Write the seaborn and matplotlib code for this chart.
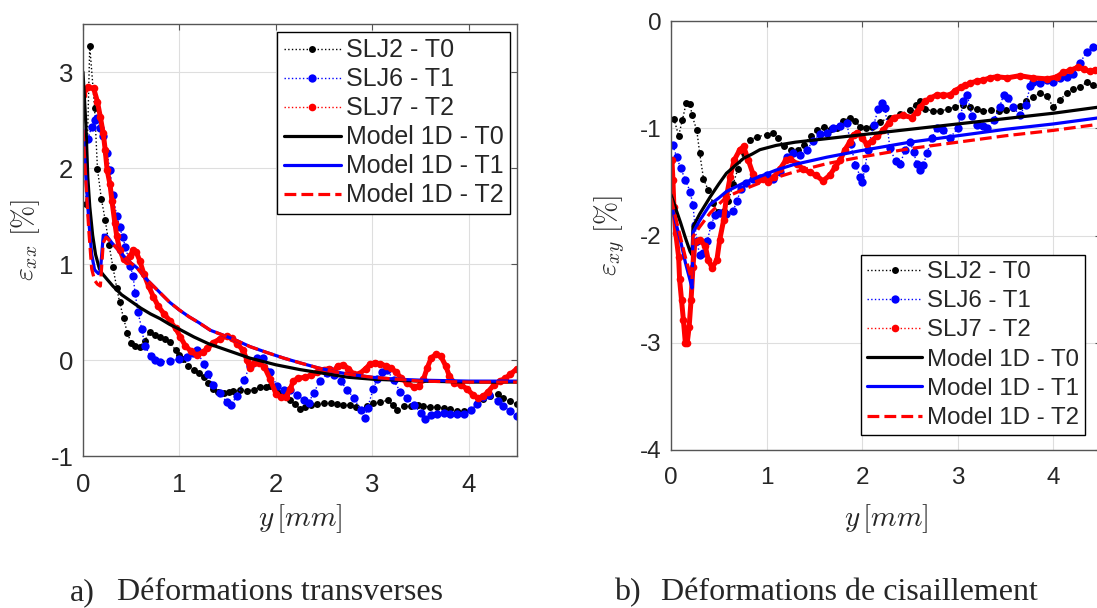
import matplotlib
matplotlib.use('Agg')
import seaborn as sns
import matplotlib.pyplot as plt

# ---- (a) transverse strain eps_xx vs y [mm] ----
a_slj2_y = [0.03, 0.07, 0.12, 0.15, 0.19, 0.23, 0.27, 0.31, 0.35, 0.38, 0.42, 0.46, 0.5, 0.54, 0.59, 0.64,
            0.69, 0.75, 0.8, 0.85, 0.9, 0.96, 1.0, 1.04, 1.09, 1.15, 1.2, 1.25, 1.3, 1.35, 1.4, 1.46, 1.51,
            1.56, 1.63, 1.7, 1.77, 1.84, 1.9, 1.94, 2.0, 2.05, 2.1, 2.15, 2.2, 2.25, 2.3, 2.36, 2.43, 2.5,
            2.57, 2.63, 2.7, 2.77, 2.83, 2.88, 2.94, 3.01, 3.08, 3.16, 3.21, 3.26, 3.33, 3.4, 3.47, 3.53,
            3.6, 3.67, 3.74, 3.81, 3.88, 3.95, 4.02, 4.09, 4.15, 4.22, 4.3, 4.36, 4.43, 4.5]
a_slj2_e = [1.62, 3.27, 2.63, 1.99, 1.68, 1.46, 1.2, 0.97, 0.75, 0.6, 0.44, 0.28, 0.18, 0.15, 0.14, 0.2,
            0.29, 0.26, 0.24, 0.22, 0.19, 0.1, 0.05, 0.01, -0.06, -0.1, -0.14, -0.18, -0.24, -0.3, -0.33,
            -0.34, -0.33, -0.32, -0.31, -0.32, -0.31, -0.28, -0.28, -0.27, -0.3, -0.34, -0.37, -0.42,
            -0.46, -0.51, -0.49, -0.47, -0.46, -0.45, -0.45, -0.46, -0.47, -0.47, -0.49, -0.52, -0.48,
            -0.45, -0.44, -0.42, -0.47, -0.52, -0.48, -0.48, -0.47, -0.48, -0.49, -0.49, -0.5, -0.51,
            -0.53, -0.53, -0.52, -0.46, -0.41, -0.38, -0.35, -0.4, -0.43, -0.46]

a_slj6_y = [0.05, 0.09, 0.12, 0.15, 0.18, 0.21, 0.25, 0.28, 0.31, 0.35, 0.38, 0.41, 0.44, 0.49, 0.52, 0.54,
            0.57, 0.61, 0.64, 0.7, 0.75, 0.8, 0.9, 1.0, 1.08, 1.14, 1.18, 1.25, 1.3, 1.35, 1.42, 1.49, 1.53,
            1.6, 1.67, 1.73, 1.8, 1.87, 1.94, 2.01, 2.08, 2.15, 2.22, 2.29, 2.34, 2.39, 2.46, 2.53, 2.56,
            2.6, 2.67, 2.74, 2.81, 2.88, 2.92, 2.95, 3.01, 3.05, 3.1, 3.15, 3.22, 3.29, 3.36, 3.43, 3.5,
            3.55, 3.61, 3.67, 3.74, 3.81, 3.88, 3.95, 4.02, 4.09, 4.15, 4.21, 4.3, 4.36, 4.43, 4.5]
a_slj6_e = [2.3, 2.43, 2.5, 2.52, 2.42, 2.33, 2.16, 1.98, 1.72, 1.5, 1.39, 1.28, 1.18, 0.98, 0.87, 0.7,
            0.5, 0.32, 0.15, 0.04, 0.0, -0.02, -0.01, 0.01, 0.03, 0.07, 0.1, -0.04, -0.15, -0.26, -0.34,
            -0.44, -0.47, -0.37, -0.21, -0.06, 0.02, 0.02, -0.12, -0.27, -0.31, -0.31, -0.36, -0.42,
            -0.45, -0.34, -0.22, -0.14, -0.1, -0.16, -0.22, -0.31, -0.4, -0.52, -0.6, -0.5, -0.3, -0.2,
            -0.12, -0.1, -0.21, -0.33, -0.4, -0.47, -0.55, -0.61, -0.57, -0.56, -0.55, -0.56, -0.56,
            -0.56, -0.52, -0.46, -0.39, -0.36, -0.43, -0.48, -0.53, -0.58]

a_slj7_y = [0.0, 0.05, 0.11, 0.15, 0.18, 0.21, 0.23, 0.25, 0.28, 0.3, 0.33, 0.35, 0.38, 0.42, 0.46, 0.49,
            0.52, 0.55, 0.59, 0.63, 0.68, 0.73, 0.78, 0.84, 0.9, 0.96, 1.01, 1.06, 1.12, 1.18, 1.24, 1.29,
            1.35, 1.42, 1.49, 1.54, 1.6, 1.66, 1.7, 1.73, 1.77, 1.82, 1.88, 1.94, 2.0, 2.05, 2.1, 2.15,
            2.18, 2.23, 2.3, 2.36, 2.43, 2.5, 2.55, 2.6, 2.64, 2.7, 2.75, 2.81, 2.86, 2.93, 2.98, 3.03,
            3.08, 3.14, 3.19, 3.25, 3.3, 3.36, 3.43, 3.48, 3.53, 3.57, 3.61, 3.66, 3.71, 3.76, 3.8, 3.85,
            3.92, 3.98, 4.04, 4.1, 4.15, 4.2, 4.26, 4.32, 4.38, 4.43, 4.5]
a_slj7_e = [2.76, 2.84, 2.83, 2.69, 2.53, 2.36, 2.19, 1.98, 1.83, 1.66, 1.43, 1.29, 1.15, 1.05, 1.03, 1.08,
            1.15, 1.13, 1.03, 0.9, 0.77, 0.66, 0.56, 0.48, 0.41, 0.33, 0.24, 0.15, 0.09, 0.05, 0.08, 0.12,
            0.18, 0.22, 0.25, 0.23, 0.17, 0.1, 0.0, -0.08, -0.03, -0.03, -0.07, -0.2, -0.35, -0.39, -0.39,
            -0.3, -0.22, -0.19, -0.18, -0.16, -0.13, -0.1, -0.09, -0.12, -0.06, -0.05, -0.09, -0.15,
            -0.15, -0.09, -0.04, -0.03, -0.04, -0.06, -0.08, -0.13, -0.19, -0.24, -0.28, -0.27, -0.2,
            -0.08, 0.02, 0.06, 0.04, -0.06, -0.17, -0.24, -0.26, -0.3, -0.36, -0.4, -0.38, -0.33, -0.26,
            -0.22, -0.19, -0.15, -0.09]

a_mod0_y = [0.0, 0.03, 0.05, 0.07, 0.1, 0.13, 0.17, 0.2, 0.25, 0.31, 0.4, 0.5, 0.6, 0.7, 0.8, 0.9, 1.0,
            1.15, 1.3, 1.5, 1.73, 2.0, 2.25, 2.5, 2.75, 3.0, 3.25, 3.5, 4.0, 4.5]
a_mod0_e = [3.0, 2.45, 1.9, 1.6, 1.3, 1.1, 0.95, 0.9, 0.84, 0.77, 0.68, 0.61, 0.54, 0.48, 0.43, 0.37, 0.32,
            0.24, 0.17, 0.1, 0.02, -0.05, -0.1, -0.14, -0.18, -0.2, -0.21, -0.22, -0.23, -0.23]

a_mod1_y = [0.0, 0.03, 0.06, 0.09, 0.12, 0.16, 0.18, 0.21, 0.24, 0.3, 0.38, 0.46, 0.56, 0.65, 0.73, 0.82,
            0.9, 1.0, 1.1, 1.2, 1.32, 1.45, 1.6, 1.73, 1.9, 2.08, 2.25, 2.43, 2.6, 2.77, 3.0, 3.25, 3.5,
            4.0, 4.5]
a_mod1_e = [2.4, 1.9, 1.45, 1.1, 0.94, 0.9, 0.92, 1.3, 1.3, 1.22, 1.13, 1.04, 0.96, 0.85, 0.77, 0.68, 0.6,
            0.52, 0.45, 0.39, 0.31, 0.26, 0.2, 0.14, 0.08, 0.02, -0.03, -0.08, -0.12, -0.15, -0.18, -0.2,
            -0.21, -0.22, -0.22]

a_mod2_y = [0.0, 0.03, 0.06, 0.09, 0.12, 0.15, 0.18, 0.21, 0.24, 0.3, 0.38, 0.46, 0.56, 0.65, 0.73, 0.82,
            0.9, 1.0, 1.1, 1.2, 1.32, 1.45, 1.6, 1.73, 1.9, 2.08, 2.25, 2.43, 2.6, 2.77, 3.0, 3.25, 3.5,
            4.0, 4.5]
a_mod2_e = [2.4, 1.85, 1.35, 0.95, 0.83, 0.79, 0.77, 1.22, 1.28, 1.22, 1.13, 1.04, 0.96, 0.85, 0.77, 0.68,
            0.6, 0.52, 0.45, 0.39, 0.31, 0.26, 0.2, 0.14, 0.08, 0.02, -0.03, -0.08, -0.12, -0.15, -0.18,
            -0.2, -0.22, -0.23, -0.23]

# ---- (b) shear strain eps_xy vs y [mm] ----
b_slj2_y = [0.03, 0.08, 0.12, 0.16, 0.2, 0.22, 0.27, 0.3, 0.34, 0.39, 0.44, 0.49, 0.55, 0.6, 0.65, 0.7,
            0.76, 0.83, 0.9, 1.0, 1.07, 1.12, 1.18, 1.26, 1.33, 1.39, 1.46, 1.53, 1.6, 1.67, 1.74, 1.8,
            1.87, 1.93, 1.98, 2.04, 2.1, 2.19, 2.29, 2.4, 2.5, 2.56, 2.61, 2.66, 2.74, 2.82, 2.9, 2.97,
            3.06, 3.13, 3.2, 3.27, 3.35, 3.43, 3.51, 3.58, 3.65, 3.72, 3.79, 3.86, 3.93, 4.0, 4.07, 4.14,
            4.21, 4.28, 4.35, 4.42, 4.5]
b_slj2_e = [-0.91, -1.07, -0.92, -0.76, -0.77, -0.88, -1.02, -1.23, -1.47, -1.58, -1.7, -1.78, -1.77,
            -1.68, -1.52, -1.38, -1.23, -1.11, -1.08, -1.06, -1.04, -1.09, -1.17, -1.2, -1.2, -1.16,
            -1.07, -1.02, -0.99, -1.01, -1.0, -0.93, -0.9, -0.93, -0.99, -1.0, -0.99, -0.94, -0.9, -0.87,
            -0.83, -0.78, -0.75, -0.82, -0.84, -0.84, -0.82, -0.8, -0.78, -0.8, -0.82, -0.84, -0.83,
            -0.84, -0.83, -0.81, -0.79, -0.75, -0.71, -0.67, -0.7, -0.8, -0.74, -0.67, -0.63, -0.62,
            -0.57, -0.6, -0.64]

b_slj6_y = [0.02, 0.06, 0.1, 0.15, 0.2, 0.23, 0.25, 0.27, 0.3, 0.34, 0.38, 0.42, 0.46, 0.51, 0.58, 0.65,
            0.69, 0.73, 0.79, 0.86, 0.93, 1.0, 1.07, 1.14, 1.21, 1.28, 1.35, 1.42, 1.49, 1.56, 1.63, 1.7,
            1.77, 1.84, 1.88, 1.93, 1.98, 2.0, 2.03, 2.06, 2.12, 2.17, 2.21, 2.24, 2.29, 2.35, 2.4, 2.45,
            2.5, 2.54, 2.57, 2.61, 2.64, 2.68, 2.73, 2.78, 2.85, 2.92, 3.0, 3.03, 3.06, 3.1, 3.15, 3.2,
            3.26, 3.31, 3.38, 3.44, 3.48, 3.53, 3.58, 3.65, 3.71, 3.76, 3.79, 3.86, 3.94, 4.0, 4.07,
            4.14, 4.21, 4.28, 4.35, 4.42, 4.5]
b_slj6_e = [-1.16, -1.27, -1.37, -1.48, -1.59, -1.72, -1.9, -2.05, -2.18, -2.16, -2.05, -1.9, -1.81,
            -1.79, -1.8, -1.77, -1.68, -1.57, -1.51, -1.47, -1.46, -1.44, -1.47, -1.41, -1.27, -1.23,
            -1.25, -1.2, -1.12, -1.05, -1.04, -1.0, -0.98, -0.95, -1.15, -1.34, -1.45, -1.5, -1.37,
            -1.2, -0.97, -0.82, -0.76, -0.81, -1.18, -1.31, -1.33, -1.2, -1.13, -1.22, -1.33, -1.39,
            -1.34, -1.23, -1.09, -1.0, -1.02, -1.09, -1.0, -0.89, -0.75, -0.69, -0.89, -0.97, -0.98,
            -1.0, -0.92, -0.8, -0.69, -0.72, -0.8, -0.88, -0.78, -0.61, -0.57, -0.58, -0.55, -0.57,
            -0.53, -0.52, -0.49, -0.39, -0.29, -0.24, -0.22]

b_slj7_y = [0.01, 0.02, 0.03, 0.05, 0.08, 0.09, 0.11, 0.13, 0.15, 0.17, 0.19, 0.21, 0.23, 0.25, 0.3, 0.36,
            0.39, 0.43, 0.48, 0.51, 0.55, 0.58, 0.62, 0.66, 0.72, 0.76, 0.81, 0.86, 0.91, 0.96, 1.02, 1.08,
            1.14, 1.2, 1.25, 1.32, 1.38, 1.45, 1.52, 1.59, 1.66, 1.72, 1.77, 1.82, 1.87, 1.91, 1.95, 2.0,
            2.05, 2.1, 2.16, 2.22, 2.28, 2.33, 2.43, 2.52, 2.57, 2.61, 2.66, 2.71, 2.78, 2.85, 2.92, 2.97,
            3.03, 3.08, 3.13, 3.2, 3.27, 3.34, 3.41, 3.52, 3.65, 3.79, 3.94, 4.04, 4.1, 4.18, 4.26, 4.32,
            4.38, 4.44, 4.5]
b_slj7_e = [-1.3, -1.48, -1.73, -1.98, -2.2, -2.41, -2.6, -2.79, -3.0, -3.0, -2.85, -2.6, -2.29, -2.06,
            -2.04, -2.1, -2.23, -2.3, -2.23, -2.04, -1.86, -1.64, -1.45, -1.3, -1.2, -1.17, -1.3, -1.43,
            -1.48, -1.47, -1.5, -1.45, -1.38, -1.3, -1.29, -1.33, -1.38, -1.41, -1.44, -1.49, -1.44,
            -1.36, -1.3, -1.2, -1.13, -1.06, -1.04, -1.09, -1.15, -1.12, -1.07, -1.02, -0.95, -0.9,
            -0.88, -0.9, -0.85, -0.8, -0.75, -0.72, -0.69, -0.69, -0.69, -0.65, -0.62, -0.6, -0.58,
            -0.56, -0.55, -0.53, -0.52, -0.53, -0.51, -0.53, -0.54, -0.52, -0.48, -0.46, -0.43, -0.45,
            -0.47, -0.46, -0.45]

b_mod0_y = [0.0, 0.05, 0.1, 0.15, 0.2, 0.22, 0.23, 0.3, 0.41, 0.5, 0.58, 0.67, 0.76, 0.85, 0.93, 1.1, 1.3,
            1.6, 2.0, 2.5, 3.0, 3.5, 4.0, 4.5]
b_mod0_e = [-1.62, -1.75, -1.88, -2.02, -2.15, -2.18, -1.92, -1.8, -1.64, -1.52, -1.42, -1.35, -1.28,
            -1.24, -1.2, -1.16, -1.13, -1.1, -1.06, -1.01, -0.96, -0.91, -0.86, -0.8]

b_mod1_y = [0.0, 0.05, 0.1, 0.15, 0.2, 0.22, 0.23, 0.3, 0.41, 0.5, 0.58, 0.76, 0.93, 1.1, 1.28, 1.63,
            1.98, 2.5, 3.0, 3.5, 4.0, 4.5]
b_mod1_e = [-1.7, -1.88, -2.05, -2.25, -2.42, -2.49, -1.97, -1.86, -1.71, -1.65, -1.59, -1.51, -1.45,
            -1.39, -1.34, -1.27, -1.21, -1.13, -1.07, -1.01, -0.96, -0.9]

b_mod2_y = [0.0, 0.05, 0.1, 0.15, 0.2, 0.22, 0.23, 0.3, 0.41, 0.5, 0.58, 0.76, 0.93, 1.1, 1.28, 1.63,
            1.98, 2.5, 3.0, 3.5, 4.0, 4.5]
b_mod2_e = [-1.65, -1.84, -2.02, -2.2, -2.36, -2.41, -2.01, -1.92, -1.79, -1.71, -1.64, -1.57, -1.51,
            -1.46, -1.41, -1.33, -1.27, -1.19, -1.13, -1.07, -1.02, -0.96]

labels = ['SLJ2 - T0', 'SLJ6 - T1', 'SLJ7 - T2', 'Model 1D - T0', 'Model 1D - T1', 'Model 1D - T2']
colors = ['black', '#0000ff', '#ff0000']

sns.set_style('white')
plt.rcParams['font.family'] = ['Liberation Sans', 'DejaVu Sans']
plt.rcParams['mathtext.fontset'] = 'cm'
plt.rcParams['axes.unicode_minus'] = False

fig = plt.figure(figsize=(10.97, 6.08), dpi=100)
ax1 = fig.add_axes([83 / 1097, 1 - 456 / 608, 434 / 1097, 432 / 608])
ax2 = fig.add_axes([671 / 1097, 1 - 450 / 608, 430 / 1097, 429 / 608])


def draw(ax, exp, mods, fs):
    # experiments: dotted line + dots (red one is dense -> thick underlay)
    sizes = [5, 6, 5.5]
    for (xs, ys), c, ms, lab in zip(exp, colors, sizes, labels[:3]):
        if c == '#ff0000':
            sns.lineplot(x=xs, y=ys, ax=ax, color=c, lw=3.6, sort=False, estimator=None,
                         solid_capstyle='round', solid_joinstyle='round', label='_nolegend_')
        sns.lineplot(x=xs, y=ys, ax=ax, color=c, lw=1, linestyle=':', marker='o', markersize=ms,
                     markeredgewidth=0, sort=False, estimator=None, label=lab)
    styles = ['-', '-', '--']
    for (xs, ys), c, ls, lab in zip(mods, colors, styles, labels[3:]):
        sns.lineplot(x=xs, y=ys, ax=ax, color=c, lw=2.3, linestyle=ls, sort=False, estimator=None,
                     label=lab)
    ax.grid(True, color='#dedede', lw=0.8)
    ax.set_axisbelow(True)
    for s in ax.spines.values():
        s.set_color('#555555')
        s.set_linewidth(1)
    ax.tick_params(direction='in', top=True, right=True, length=4, width=0.8, color='#555555',
                   labelsize=fs, labelcolor='#262626')
    ax.tick_params(axis='x', pad=12)
    ax.tick_params(axis='y', pad=7)
    ax.set_xlim(0, 4.5)
    ax.set_xticks([0, 1, 2, 3, 4])


draw(ax1, [(a_slj2_y, a_slj2_e), (a_slj6_y, a_slj6_e), (a_slj7_y, a_slj7_e)],
     [(a_mod0_y, a_mod0_e), (a_mod1_y, a_mod1_e), (a_mod2_y, a_mod2_e)], 18.5)
draw(ax2, [(b_slj2_y, b_slj2_e), (b_slj6_y, b_slj6_e), (b_slj7_y, b_slj7_e)],
     [(b_mod0_y, b_mod0_e), (b_mod1_y, b_mod1_e), (b_mod2_y, b_mod2_e)], 17.5)

ax1.set_ylim(-1, 3.5)
ax1.set_yticks([-1, 0, 1, 2, 3])
ax2.set_ylim(-4, 0)
ax2.set_yticks([-4, -3, -2, -1, 0])

ax1.set_xlabel(r'$y\,[mm]$', fontsize=21)
ax2.set_xlabel(r'$y\,[mm]$', fontsize=21)
ax1.set_ylabel(r'$\varepsilon_{xx}\ [\%]$', fontsize=20)
ax2.set_ylabel(r'$\varepsilon_{xy}\ [\%]$', fontsize=20)
ax1.xaxis.set_label_coords(0.5, -0.108)
ax2.xaxis.set_label_coords(0.5, -0.122)
ax1.yaxis.set_label_coords(-0.094, 0.5)
ax2.yaxis.set_label_coords(-0.1, 0.5)

leg_kw = dict(frameon=True, fancybox=False, framealpha=1, edgecolor='black',
              borderpad=0.25, handlelength=2.3, handletextpad=0.2, borderaxespad=0)
lg = ax1.legend(loc='upper right', bbox_to_anchor=(510 / 1097, 1 - 32 / 608),
                bbox_transform=fig.transFigure, fontsize=18, labelspacing=0.2, **leg_kw)
lg.get_frame().set_linewidth(1)
lg = ax2.legend(loc='upper right', bbox_to_anchor=(1085 / 1097, 1 - 255 / 608),
                bbox_transform=fig.transFigure, fontsize=17.3, labelspacing=0.3, **leg_kw)
lg.get_frame().set_linewidth(1)

serif = ['Liberation Serif', 'DejaVu Serif']
cy = 1 - 600 / 608
fig.text(70 / 1097, cy, 'a)', family=serif, fontsize=23, va='baseline')
fig.text(117 / 1097, cy, 'Déformations transverses', family=serif, fontsize=23, va='baseline')
fig.text(614 / 1097, cy, 'b)', family=serif, fontsize=23, va='baseline')
fig.text(661 / 1097, cy, 'Déformations de cisaillement', family=serif, fontsize=23, va='baseline')

fig.savefig('out.png', dpi=100)
